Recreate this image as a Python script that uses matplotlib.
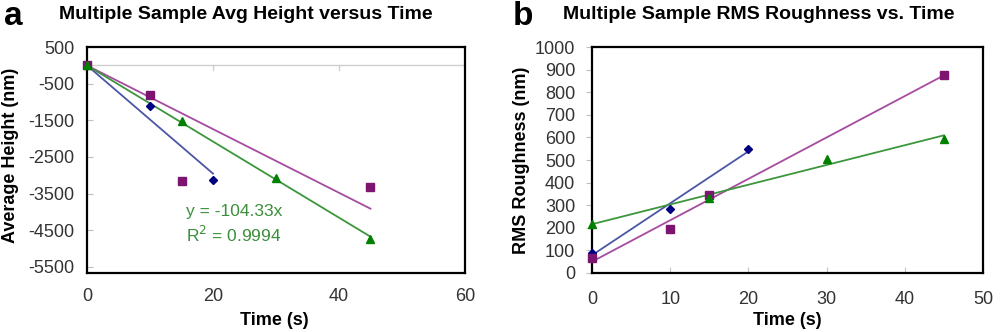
import matplotlib
matplotlib.use("Agg")
import matplotlib.pyplot as plt
import numpy as np

plt.rcParams['font.family'] = ['Liberation Sans', 'DejaVu Sans']
plt.rcParams['axes.unicode_minus'] = False

# panel a: average height (nm) vs time (s)
t_blue_a = [0, 10, 20]
h_blue = [0, -1110, -3140]
t_green_a = [0, 15, 30, 45]
h_green = [0, -1510, -3070, -4730]
t_purple_a = [0, 10, 15, 45]
h_purple = [0, -810, -3160, -3310]

# panel b: RMS roughness (nm) vs time (s)
t_blue_b = [0, 10, 20]
r_blue = [90, 285, 550]
t_green_b = [0, 15, 30, 45]
r_green = [215, 334, 506, 595]
t_purple_b = [0, 10, 15, 45]
r_purple = [64, 196, 347, 876]

a_yticks = [500, -500, -1500, -2500, -3500, -4500, -5500]
a_xticks = [0, 20, 40, 60]
b_yticks = list(range(0, 1001, 100))
b_xticks = [0, 10, 20, 30, 40, 50]

c_blue, l_blue = '#000080', '#4a56a6'
c_green, l_green = '#008000', '#3c963c'
c_purple, l_purple = '#7d1470', '#a54ba0'
tick_col = '#333333'


def fit_origin(x, y):
    x = np.array(x, float)
    y = np.array(y, float)
    return (x * y).sum() / (x * x).sum()


fig = plt.figure(figsize=(10, 3.32), dpi=100)
ax1 = fig.add_axes([0.087, 0.178, 0.378, 0.680])
ax2 = fig.add_axes([0.592, 0.178, 0.391, 0.680])

# ---- panel a
ax1.axhline(0, color='#d0d0d0', lw=1, zorder=1)
for x, y, c, lc in [(t_blue_a, h_blue, c_blue, l_blue),
                    (t_purple_a, h_purple, c_purple, l_purple),
                    (t_green_a, h_green, c_green, l_green)]:
    k = fit_origin(x, y)
    xx = np.array([0, max(x)])
    ax1.plot(xx, k * xx, color=lc, lw=1.3, zorder=2)
ax1.plot(t_blue_a, h_blue, 'D', ms=4.5, color=c_blue, zorder=3, clip_on=False)
ax1.plot(t_purple_a, h_purple, 's', ms=6, color=c_purple, zorder=3, clip_on=False)
ax1.plot(t_green_a, h_green, '^', ms=6, color=c_green, zorder=3, clip_on=False)
for tx in a_xticks[1:]:
    ax1.plot([tx, tx], [0, -130], color='#d0d0d0', lw=1, zorder=1)
ax1.text(0.389, 0.274, 'y = -104.33x', transform=ax1.transAxes, ha='center',
         va='center', color='#3a8f3a', fontsize=12.5)
ax1.text(0.389, 0.168, 'R$^2$ = 0.9994', transform=ax1.transAxes, ha='center',
         va='center', color='#3a8f3a', fontsize=12.5)
ax1.set_xlim(0, 60)
ax1.set_ylim(-5670, 500)
ax1.set_yticks(a_yticks)
ax1.set_xticks(a_xticks)
ax1.tick_params(axis='y', direction='in', length=4, color='#c0c0c0',
                labelsize=13, labelcolor=tick_col, pad=9)
ax1.tick_params(axis='x', length=0, labelsize=13, labelcolor=tick_col, pad=11)
ax1.set_xlabel('Time (s)', fontsize=13, fontweight='bold')
ax1.xaxis.set_label_coords(0.495, -0.173)
ax1.set_ylabel('Average Height (nm)', fontsize=13, fontweight='bold')
ax1.yaxis.set_label_coords(-0.18, 0.52)

# ---- panel b
for x, y, c, lc in [(t_blue_b, r_blue, c_blue, l_blue),
                    (t_purple_b, r_purple, c_purple, l_purple),
                    (t_green_b, r_green, c_green, l_green)]:
    m, b = np.polyfit(x, y, 1)
    xx = np.array([0, max(x)])
    ax2.plot(xx, m * xx + b, color=lc, lw=1.3, zorder=2)
ax2.plot(t_blue_b, r_blue, 'D', ms=4.5, color=c_blue, zorder=3, clip_on=False)
ax2.plot(t_purple_b, r_purple, 's', ms=6, color=c_purple, zorder=3, clip_on=False)
ax2.plot(t_green_b, r_green, '^', ms=6, color=c_green, zorder=3, clip_on=False)
ax2.set_xlim(0, 50)
ax2.set_ylim(0, 1000)
ax2.set_yticks(b_yticks)
ax2.set_xticks(b_xticks)
ax2.tick_params(axis='y', direction='out', length=4, color='#c0c0c0',
                labelsize=13, labelcolor=tick_col, pad=8)
ax2.tick_params(axis='x', direction='in', length=4, color='#c0c0c0',
                labelsize=13, labelcolor=tick_col, pad=13)
ax2.set_xlabel('Time (s)', fontsize=13, fontweight='bold')
ax2.xaxis.set_label_coords(0.5, -0.173)
ax2.set_ylabel('RMS Roughness (nm)', fontsize=13, fontweight='bold')
ax2.yaxis.set_label_coords(-0.159, 0.5)

for ax in (ax1, ax2):
    for s in ax.spines.values():
        s.set_linewidth(1.6)
        s.set_color('black')

fig.text(0.246, 0.955, 'Multiple Sample Avg Height versus Time', ha='center',
         va='center', fontsize=14, fontweight='bold')
fig.text(0.759, 0.955, 'Multiple Sample RMS Roughness vs. Time', ha='center',
         va='center', fontsize=14, fontweight='bold')
fig.text(0.004, 0.95, 'a', ha='left', va='center', fontsize=24, fontweight='bold')
fig.text(0.513, 0.95, 'b', ha='left', va='center', fontsize=24, fontweight='bold')

fig.savefig('out.png', dpi=100)
